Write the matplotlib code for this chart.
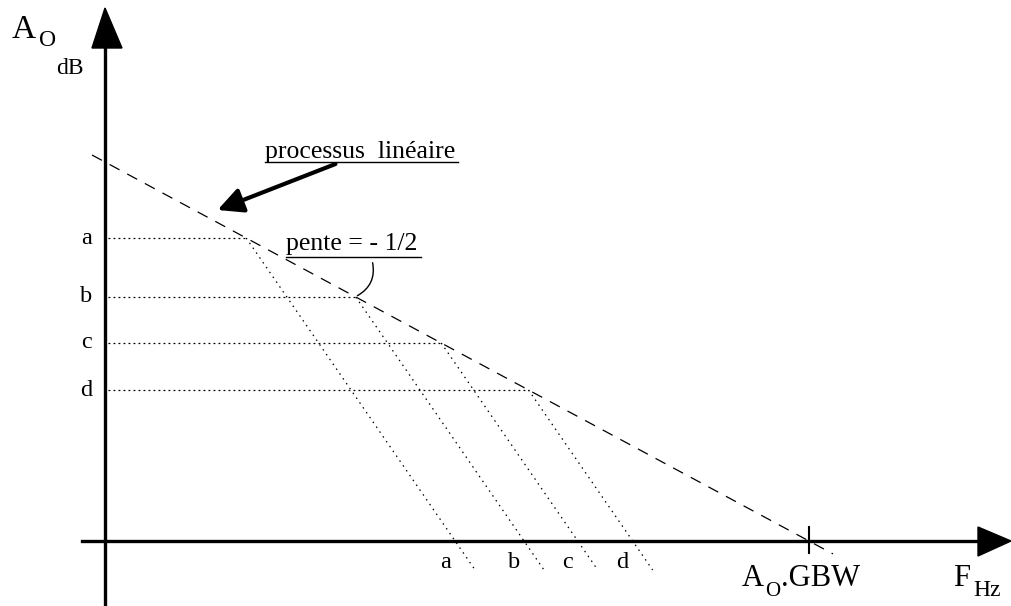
import matplotlib
matplotlib.use("Agg")
import matplotlib.pyplot as plt
import numpy as np
from matplotlib.patches import Polygon, FancyArrowPatch

plt.rcParams['font.family'] = ['Liberation Serif', 'DejaVu Serif']

# diagram units: origin at the axes crossing, y up
levels = ['a', 'b', 'c', 'd']
level_gain = [303, 244, 198, 151]
A0 = 379          # open loop gain at x = 0
gbw_x = 704       # A0.GBW on the frequency axis
slope_ol = -A0 / gbw_x
slope_cl = -1.45  # steep closed-loop rolloff
line_x = [-13, 728]

fig = plt.figure(figsize=(10.11, 6.06), dpi=100)
ax = fig.add_axes([0, 0, 1, 1])
ax.set_xlim(-105, 906)
ax.set_ylim(-65, 541)
ax.axis('off')

# axes
ax.plot([0, 0], [-224, 495], color='black', lw=2.4)
ax.plot([-23, 880], [0, 0], color='black', lw=2.4)
ax.add_patch(Polygon([[-13, 493], [17, 493], [0, 533]], color='black'))
ax.add_patch(Polygon([[873, 14], [873, -15], [906, 0]], color='black'))

# open loop line
xs = np.array(line_x)
ax.plot(xs, A0 + slope_ol * xs, color='black', lw=0.9, dashes=(9, 7))
ax.plot([gbw_x, gbw_x], [-12, 14], color='black', lw=1.5)

for name, g in zip(levels, level_gain):
    xc = (g - A0) / slope_ol
    ax.plot([3, xc], [g, g], color='black', lw=0.9, dashes=(1.5, 2.5))
    x_end = xc + (-29 - g) / slope_cl
    ax.plot([xc, x_end], [g, -29], color='black', lw=0.9, dashes=(1.2, 3.5))
    ax.text(-13, g, name, fontsize=17.5, ha='right', va='center')
    ax.text(xc + (0 - g) / slope_cl - 10, -21, name, fontsize=17.5,
            ha='center', va='center')

# axis labels
ax.text(-93, 511, 'A', fontsize=24, ha='left', va='center')
ax.text(-66, 500, 'O', fontsize=17, ha='left', va='center')
ax.text(-49, 472, 'dB', fontsize=17, ha='left', va='center')
ax.text(637, -38, 'A', fontsize=22, ha='left', va='center')
ax.text(660, -50, 'O', fontsize=15, ha='left', va='center')
ax.text(676, -38, '.GBW', fontsize=22, ha='left', va='center')
ax.text(848, -38, 'F', fontsize=22, ha='left', va='center')
ax.text(868, -50, 'Hz', fontsize=17, ha='left', va='center')

# annotations
ax.text(160, 389, 'processus  linéaire', fontsize=18.5, ha='left', va='center')
ax.plot([160, 353], [379, 379], color='black', lw=1.0)
ax.add_patch(FancyArrowPatch((233, 378), (110, 330), arrowstyle='-|>',
                             mutation_scale=38, lw=3, color='black'))

ax.text(181, 297, 'pente = - 1/2', fontsize=18.5, ha='left', va='center')
ax.plot([181, 316], [284, 284], color='black', lw=1.0)
ax.add_patch(FancyArrowPatch((267, 281), (250, 244), arrowstyle='-',
                             connectionstyle='arc3,rad=-0.4', lw=1.0,
                             color='black'))

fig.savefig('out.png', dpi=100)
